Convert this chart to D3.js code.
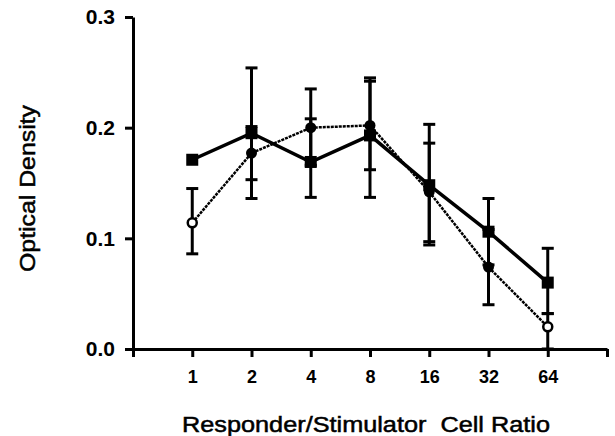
<!DOCTYPE html>
<html>
<head>
<meta charset="utf-8">
<script src="https://cdn.jsdelivr.net/npm/d3@7"></script>
<style>
  body { margin: 0; background: #fff; }
  svg { display: block; }
</style>
</head>
<body>
<div id="chart"></div>
<script>
// responder/stimulator ratios on the x axis
var ratios = ['1', '2', '4', '8', '16', '32', '64'];
var yTicks = [0.0, 0.1, 0.2, 0.3];

// squares, thick solid line
var sqMean = [0.171, 0.195, 0.169, 0.193, 0.148, 0.106, 0.060];
var sqHi   = [null, 0.254, 0.208, 0.242, 0.203, 0.136, 0.091];
var sqLo   = [null, 0.136, 0.137, 0.137, 0.094, 0.076, 0.032];

// circles, thin dotted line (first and last points open)
var ciMean = [0.114, 0.177, 0.200, 0.202, 0.142, 0.074, 0.020];
var ciHi   = [0.145, 0.201, 0.235, 0.245, 0.186, 0.108, 0.032];
var ciLo   = [0.086, 0.153, 0.166, 0.162, 0.097, 0.040, 0.000];
var ciOpen = [true, false, false, false, false, false, true];

var width = 615;
var height = 436;

var svg = d3.select('#chart')
    .append('svg')
    .attr('width', width)
    .attr('height', height);

var x = d3.scaleLinear().domain([0, ratios.length + 1]).range([133, 607]);
var y = d3.scaleLinear().domain([0, 0.3]).range([349, 17]);

var font = 'Liberation Sans, Arial, Helvetica, sans-serif';

// axes
var xAxis = d3.axisBottom(x)
    .tickValues(d3.range(0, ratios.length + 2))
    .tickFormat((d) => (d >= 1 && d <= ratios.length) ? ratios[d - 1] : '')
    .tickSize(8)
    .tickSizeOuter(0)
    .tickPadding(13);

var yAxis = d3.axisLeft(y)
    .tickValues(yTicks)
    .tickFormat(d3.format('.1f'))
    .tickSize(8)
    .tickSizeOuter(0)
    .tickPadding(10);

var gx = svg.append('g')
    .attr('transform', 'translate(0,' + y(0) + ')')
    .call(xAxis);
var gy = svg.append('g')
    .attr('transform', 'translate(' + x(0) + ',0)')
    .call(yAxis);

[gx, gy].forEach((g) => {
    g.select('.domain').attr('stroke', '#000').attr('stroke-width', 3);
    g.selectAll('.tick line').attr('stroke', '#000').attr('stroke-width', 3);
});
gx.selectAll('.tick text')
    .attr('font-family', font)
    .attr('font-size', 18)
    .attr('font-weight', 'bold')
    .attr('fill', '#000');
gy.selectAll('.tick text')
    .attr('font-family', font)
    .attr('font-size', 21)
    .attr('font-weight', 'bold')
    .attr('fill', '#000');

// axis titles (the scanned face is wider than Liberation Sans, so stretch it)
svg.append('text')
    .attr('x', 182)
    .attr('y', 432)
    .attr('font-family', font)
    .attr('font-size', 22)
    .attr('stroke', '#000')
    .attr('stroke-width', 0.5)
    .attr('textLength', 368)
    .attr('lengthAdjust', 'spacingAndGlyphs')
    .style('white-space', 'pre')
    .text('Responder/Stimulator  Cell Ratio');

svg.append('text')
    .attr('transform', 'translate(35,272) rotate(-90)')
    .attr('font-family', font)
    .attr('font-size', 22)
    .attr('stroke', '#000')
    .attr('stroke-width', 0.5)
    .attr('textLength', 167)
    .attr('lengthAdjust', 'spacingAndGlyphs')
    .text('Optical Density');

// error bars
function errorBars(mean, hi, lo) {
    var rows = mean.map((m, i) => ({ i: i, hi: hi[i], lo: lo[i] }))
        .filter((d) => d.hi != null);
    var g = svg.append('g').attr('stroke', '#000').attr('stroke-width', 3);
    g.selectAll('line.v').data(rows).enter().append('line')
        .attr('x1', (d) => x(d.i + 1)).attr('x2', (d) => x(d.i + 1))
        .attr('y1', (d) => y(d.hi)).attr('y2', (d) => y(d.lo));
    g.selectAll('line.t').data(rows).enter().append('line')
        .attr('x1', (d) => x(d.i + 1) - 6).attr('x2', (d) => x(d.i + 1) + 6)
        .attr('y1', (d) => y(d.hi)).attr('y2', (d) => y(d.hi));
    g.selectAll('line.b').data(rows).enter().append('line')
        .attr('x1', (d) => x(d.i + 1) - 6).attr('x2', (d) => x(d.i + 1) + 6)
        .attr('y1', (d) => y(d.lo)).attr('y2', (d) => y(d.lo));
}
errorBars(sqMean, sqHi, sqLo);
errorBars(ciMean, ciHi, ciLo);

var line = d3.line()
    .x((d, i) => x(i + 1))
    .y((d) => y(d));

// circle series line
svg.append('path')
    .datum(ciMean)
    .attr('d', line)
    .attr('fill', 'none')
    .attr('stroke', '#000')
    .attr('stroke-width', 2.5)
    .attr('stroke-dasharray', '3,1');

// square series line
svg.append('path')
    .datum(sqMean)
    .attr('d', line)
    .attr('fill', 'none')
    .attr('stroke', '#000')
    .attr('stroke-width', 3.5);

// circle markers
svg.append('g')
    .selectAll('circle')
    .data(ciMean)
    .enter()
    .append('circle')
    .attr('cx', (d, i) => x(i + 1))
    .attr('cy', (d) => y(d))
    .attr('r', (d, i) => ciOpen[i] ? 4.5 : 5.5)
    .attr('fill', (d, i) => ciOpen[i] ? '#fff' : '#000')
    .attr('stroke', '#000')
    .attr('stroke-width', (d, i) => ciOpen[i] ? 2.5 : 0);

// square markers
var sq = 12;
svg.append('g')
    .selectAll('rect')
    .data(sqMean)
    .enter()
    .append('rect')
    .attr('x', (d, i) => x(i + 1) - sq / 2)
    .attr('y', (d) => y(d) - sq / 2)
    .attr('width', sq)
    .attr('height', sq)
    .attr('fill', '#000');
</script>
</body>
</html>
